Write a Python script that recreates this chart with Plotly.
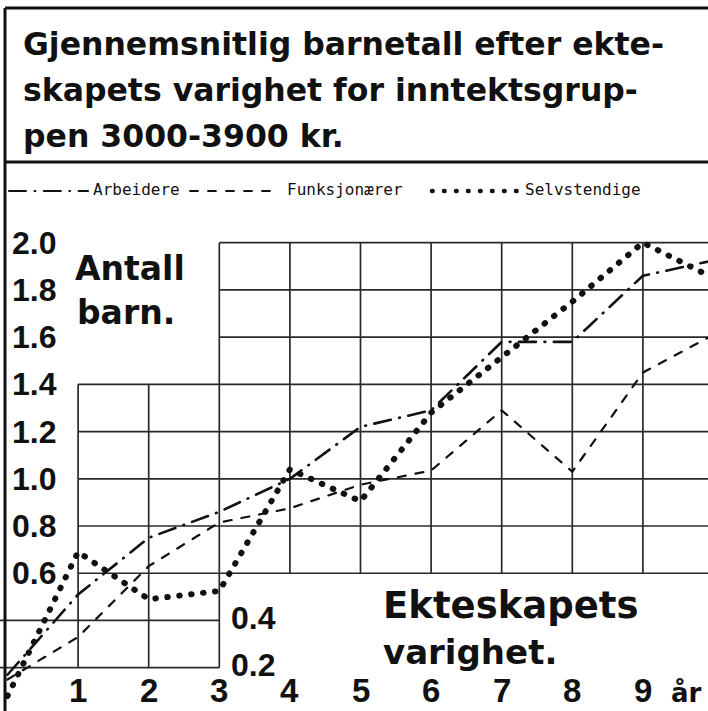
import plotly.graph_objects as go

# ---------------- data ----------------
years = [0, 1, 2, 3, 4, 5, 6, 7, 8, 9, 10]
arbeidere = [0.17, 0.51, 0.75, 0.86, 1.00, 1.22, 1.29, 1.58, 1.58, 1.86, 1.925]
funksjonaerer = [0.15, 0.33, 0.63, 0.815, 0.875, 0.975, 1.035, 1.29, 1.03, 1.45, 1.61]
selvstendige = [0.08, 0.69, 0.49, 0.525, 1.04, 0.905, 1.28, 1.515, 1.75, 2.00, 1.85]

series_names = ["Arbeidere", "Funksjonærer", "Selvstendige"]

x_tick_vals = [1, 2, 3, 4, 5, 6, 7, 8, 9]
x_tick_text = ["1", "2", "3", "4", "5", "6", "7", "8", "9"]
x_unit = "år"

y_tick_vals_left = [2.0, 1.8, 1.6, 1.4, 1.2, 1.0, 0.8, 0.6]
y_tick_text_left = ["2.0", "1.8", "1.6", "1.4", "1.2", "1.0", "0.8", "0.6"]
y_tick_vals_inner = [0.4, 0.2]
y_tick_text_inner = ["0.4", "0.2"]

title_lines = ["Gjennemsnitlig barnetall efter ekte-",
               "skapets varighet for inntektsgrup-",
               "pen 3000-3900 kr."]
y_title = ["Antall", "barn."]
x_title = ["Ekteskapets", "varighet."]

# ---------------- geometry / style ----------------
W, H = 708, 711
X0PX, XSTEP = 7.5, 70.6          # pixel of x=0, pixels per year
Y0PX, YSTEP = 714.9, 236.1       # pixel of y=0, pixels per unit
XR = [(0 - X0PX) / XSTEP, (W - X0PX) / XSTEP]
YR = [(Y0PX - H) / YSTEP, Y0PX / YSTEP]

INK = "#111111"
GRID = "#2a2a2a"

def px_to_x(px):
    return (px - X0PX) / XSTEP

def py_to_y(py):
    return (Y0PX - py) / YSTEP

dash_arb = "17px,8.5px,0.8px,8.5px"
dash_fun = "8px,10px"
dash_sel = "0.6px,11.4px"
styles = [dict(width=2.6, dash=dash_arb),
          dict(width=2.2, dash=dash_fun),
          dict(width=6.0, dash=dash_sel)]
values = [arbeidere, funksjonaerer, selvstendige]

fig = go.Figure()
for name, vals, st in zip(series_names, values, styles):
    fig.add_trace(go.Scatter(x=years, y=vals, mode="lines", name=name,
                             line=dict(color=INK, width=st["width"], dash=st["dash"]),
                             showlegend=False, hoverinfo="skip"))

shapes = []
# stepped grid
xmax = XR[1] + 0.1
for yv in [2.0, 1.8, 1.6]:
    shapes.append((3, yv, xmax, yv))
for yv in [1.4, 1.2, 1.0, 0.8, 0.6]:
    shapes.append((1, yv, xmax, yv))
for yv in [0.4, 0.2]:
    shapes.append((XR[0], yv, 3, yv))
for xv in [1, 2]:
    shapes.append((xv, 0.2, xv, 1.4))
shapes.append((3, 0.2, 3, 2.0))
for xv in [4, 5, 6, 7, 8, 9]:
    shapes.append((xv, 0.6, xv, 2.0))

shape_objs = []
for (a, b, c, d) in shapes:
    shape_objs.append(dict(type="line", xref="x", yref="y", x0=a, y0=b, x1=c, y1=d,
                           line=dict(color=GRID, width=1.7), layer="below"))

# frame (paper = whole figure since margins are zero)
def pxp(px):
    return px / W

def pyp(py):
    return 1 - py / H

frame = [((5, 8), (5, H)), ((5, 8), (W, 8)), ((5, 162), (W, 162))]
for (a, b) in frame:
    shape_objs.append(dict(type="line", xref="paper", yref="paper",
                           x0=pxp(a[0]), y0=pyp(a[1]), x1=pxp(b[0]), y1=pyp(b[1]),
                           line=dict(color=INK, width=3)))

# legend samples and texts
legend_y = 191
legend_samples = [(9, 88), (190, 280), (432, 518)]
legend_text_x = [91, 285, 523]
for (a, b), st in zip(legend_samples, styles):
    shape_objs.append(dict(type="line", xref="paper", yref="paper",
                           x0=pxp(a), y0=pyp(legend_y), x1=pxp(b), y1=pyp(legend_y),
                           line=dict(color=INK, width=st["width"] * 0.75 if st["width"] > 5 else st["width"] * 0.8,
                                     dash=st["dash"])))

ann = []
for name, tx in zip(series_names, legend_text_x):
    ann.append(dict(xref="paper", yref="paper", x=pxp(tx), y=pyp(legend_y - 1),
                    text=name, showarrow=False, xanchor="left", yanchor="middle",
                    font=dict(family="DejaVu Sans Mono", size=16, color=INK)))

# title lines
title_centers = [44, 90, 136]
for line, cy in zip(title_lines, title_centers):
    ann.append(dict(xref="paper", yref="paper", x=pxp(21), y=pyp(cy), text=line,
                    showarrow=False, xanchor="left", yanchor="middle",
                    font=dict(family="DejaVu Sans", size=31.5, weight="bold", color=INK)))

# y tick labels (left column)
for v, t in zip(y_tick_vals_left, y_tick_text_left):
    ann.append(dict(xref="x", yref="y", x=px_to_x(10), y=v, text=t, showarrow=False,
                    xanchor="left", yanchor="middle",
                    font=dict(family="Liberation Sans", size=32, weight="bold", color=INK)))
# y tick labels placed inside, next to x=3
for v, t in zip(y_tick_vals_inner, y_tick_text_inner):
    ann.append(dict(xref="x", yref="y", x=3.14, y=v + 0.01, text=t, showarrow=False,
                    xanchor="left", yanchor="middle",
                    font=dict(family="Liberation Sans", size=32, weight="bold", color=INK)))

# x tick labels
for v, t in zip(x_tick_vals, x_tick_text):
    ann.append(dict(xref="x", yref="y", x=v, y=py_to_y(690), text=t, showarrow=False,
                    xanchor="center", yanchor="middle",
                    font=dict(family="Liberation Sans", size=33, weight="bold", color=INK)))
ann.append(dict(xref="x", yref="y", x=px_to_x(686), y=py_to_y(692), text=x_unit,
                showarrow=False, xanchor="center", yanchor="middle",
                font=dict(family="DejaVu Sans", size=26, weight="bold", color=INK)))

# axis titles
ann.append(dict(xref="x", yref="y", x=px_to_x(73), y=py_to_y(268), text=y_title[0],
                showarrow=False, xanchor="left", yanchor="middle",
                font=dict(family="DejaVu Sans", size=33, weight="bold", color=INK)))
ann.append(dict(xref="x", yref="y", x=px_to_x(75), y=py_to_y(312), text=y_title[1],
                showarrow=False, xanchor="left", yanchor="middle",
                font=dict(family="DejaVu Sans", size=33, weight="bold", color=INK)))
ann.append(dict(xref="x", yref="y", x=px_to_x(381), y=py_to_y(605), text=x_title[0],
                showarrow=False, xanchor="left", yanchor="middle",
                font=dict(family="DejaVu Sans", size=37, weight="bold", color=INK)))
ann.append(dict(xref="x", yref="y", x=px_to_x(381), y=py_to_y(652), text=x_title[1],
                showarrow=False, xanchor="left", yanchor="middle",
                font=dict(family="DejaVu Sans", size=34, weight="bold", color=INK)))

fig.update_layout(
    width=W, height=H,
    margin=dict(l=0, r=0, t=0, b=0),
    paper_bgcolor="white", plot_bgcolor="white",
    xaxis=dict(range=XR, visible=False, fixedrange=True),
    yaxis=dict(range=YR, visible=False, fixedrange=True),
    shapes=shape_objs,
    annotations=ann,
    showlegend=False,
)

post = """
document.documentElement.style.margin = '0';
document.documentElement.style.padding = '0';
document.body.style.margin = '0';
document.body.style.padding = '0';
document.body.style.overflow = 'hidden';
var gd = document.getElementById('{plot_id}');
function rc(){
  var ps = gd.querySelectorAll('path');
  ps.forEach(function(p){
    var d = p.style.strokeDasharray || p.getAttribute('stroke-dasharray') || '';
    if (d && d !== 'none' && d.length > 0) { p.style.strokeLinecap = 'round'; }
  });
}
rc();
if (gd.on) { gd.on('plotly_afterplot', rc); }
setTimeout(rc, 50); setTimeout(rc, 300);
"""

fig.write_html("out.html", post_script=post, config=dict(staticPlot=True))
